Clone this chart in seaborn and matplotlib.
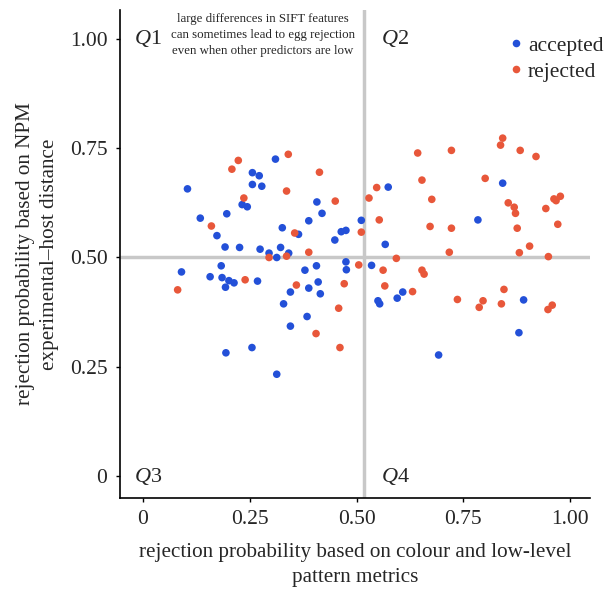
import matplotlib
matplotlib.use("Agg")
import matplotlib.pyplot as plt
import seaborn as sns
import pandas as pd

acc_x = [0.104, 0.134, 0.173, 0.196, 0.192, 0.226, 0.232, 0.244, 0.256, 0.272, 0.256, 0.278,
         0.310, 0.274, 0.295, 0.313, 0.322, 0.326, 0.090, 0.157, 0.183, 0.185, 0.201, 0.213,
         0.193, 0.268, 0.194, 0.255, 0.313, 0.364, 0.407, 0.419, 0.388, 0.511, 0.464, 0.475,
         0.449, 0.567, 0.574, 0.341, 0.379, 0.406, 0.475, 0.476, 0.535, 0.345, 0.388, 0.410,
         0.415, 0.329, 0.384, 0.345, 0.550, 0.554, 0.595, 0.842, 0.784, 0.608, 0.891, 0.880,
         0.692]
acc_y = [0.657, 0.590, 0.550, 0.600, 0.524, 0.523, 0.621, 0.616, 0.694, 0.687, 0.667, 0.663,
         0.725, 0.519, 0.510, 0.500, 0.523, 0.568, 0.467, 0.456, 0.481, 0.454, 0.447, 0.442,
         0.432, 0.446, 0.282, 0.294, 0.233, 0.553, 0.627, 0.601, 0.584, 0.585, 0.559, 0.562,
         0.540, 0.530, 0.661, 0.510, 0.471, 0.481, 0.490, 0.472, 0.482, 0.421, 0.430, 0.444,
         0.417, 0.394, 0.365, 0.343, 0.401, 0.394, 0.407, 0.670, 0.586, 0.421, 0.403, 0.328,
         0.277]

rej_x = [0.223, 0.208, 0.236, 0.160, 0.295, 0.239, 0.081, 0.340, 0.413, 0.336, 0.450, 0.547,
         0.529, 0.553, 0.511, 0.355, 0.388, 0.336, 0.505, 0.593, 0.562, 0.566, 0.471, 0.359,
         0.458, 0.405, 0.461, 0.842, 0.837, 0.883, 0.920, 0.722, 0.643, 0.653, 0.801, 0.676,
         0.855, 0.869, 0.872, 0.943, 0.962, 0.967, 0.977, 0.971, 0.876, 0.672, 0.722, 0.905,
         0.881, 0.717, 0.949, 0.653, 0.658, 0.631, 0.845, 0.736, 0.796, 0.787, 0.839, 0.958,
         0.948]
rej_y = [0.722, 0.702, 0.636, 0.572, 0.500, 0.449, 0.426, 0.736, 0.695, 0.652, 0.629, 0.660,
         0.636, 0.586, 0.558, 0.556, 0.512, 0.503, 0.483, 0.498, 0.471, 0.435, 0.440, 0.437,
         0.384, 0.326, 0.294, 0.773, 0.757, 0.745, 0.731, 0.745, 0.739, 0.677, 0.681, 0.633,
         0.625, 0.615, 0.601, 0.612, 0.634, 0.630, 0.640, 0.576, 0.567, 0.571, 0.567, 0.526,
         0.511, 0.512, 0.502, 0.471, 0.462, 0.422, 0.427, 0.404, 0.401, 0.386, 0.394, 0.391,
         0.381]

ticks = [0, 0.25, 0.50, 0.75, 1.00]
tick_labels = ["0", "0.25", "0.50", "0.75", "1.00"]
x_split = 0.517
y_split = 0.5

df = pd.DataFrame({
    "x": acc_x + rej_x,
    "y": acc_y + rej_y,
    "status": ["accepted"] * len(acc_x) + ["rejected"] * len(rej_x),
})

sns.set_style("ticks")
plt.rcParams["font.family"] = ["Liberation Serif", "DejaVu Serif"]
plt.rcParams["mathtext.fontset"] = "custom"
plt.rcParams["mathtext.it"] = "Liberation Serif:italic"
plt.rcParams["mathtext.rm"] = "Liberation Serif"

fig = plt.figure(figsize=(6.06, 5.90), dpi=100)
ax = fig.add_axes([0.198, 0.156, 0.776, 0.827])

ax.axvline(x_split, color="#c8c8c8", lw=2.5, zorder=1)
ax.axhline(y_split, color="#c8c8c8", lw=2.5, zorder=1)

sns.scatterplot(data=df, x="x", y="y", hue="status",
                palette={"accepted": "#2350d8", "rejected": "#e8573a"},
                s=30, linewidth=0, ax=ax, zorder=3)

ax.set_xlim(-0.054, 1.047)
ax.set_ylim(-0.050, 1.066)
ax.set_xticks(ticks)
ax.set_xticklabels(tick_labels)
ax.set_yticks(ticks)
ax.set_yticklabels(tick_labels)
ax.tick_params(labelsize=15.5, length=3, width=1, color="black", pad=6)
for s in ["top", "right"]:
    ax.spines[s].set_visible(False)
for s in ["left", "bottom"]:
    ax.spines[s].set_color("black")
    ax.spines[s].set_linewidth(1.2)

ax.set_xlabel("rejection probability based on colour and low-level\npattern metrics",
              fontsize=15.2, labelpad=10, linespacing=1.4)
ax.set_ylabel("rejection probability based on NPM\nexperimental\u2013host distance",
              fontsize=15.2, labelpad=8, linespacing=1.3)

ax.text(-0.021, 1.0, "$\\it{Q}$1", fontsize=16, va="center", ha="left")
ax.text(0.557, 1.0, "$\\it{Q}$2", fontsize=16, va="center", ha="left")
ax.text(-0.021, 0.0, "$\\it{Q}$3", fontsize=16, va="center", ha="left")
ax.text(0.557, 0.0, "$\\it{Q}$4", fontsize=16, va="center", ha="left")

ax.text(0.28, 1.009,
        "large differences in SIFT features\ncan sometimes lead to egg rejection\neven when other predictors are low",
        fontsize=9.3, ha="center", va="center", linespacing=1.45)

leg = ax.legend(loc="upper left", bbox_to_anchor=(0.827, 0.954),
                bbox_transform=fig.transFigure, frameon=False,
                fontsize=15.5, handlelength=0.6, handletextpad=0.25,
                labelspacing=0.28, borderaxespad=0)
leg.set_title(None)

fig.savefig("out.png", dpi=100)
